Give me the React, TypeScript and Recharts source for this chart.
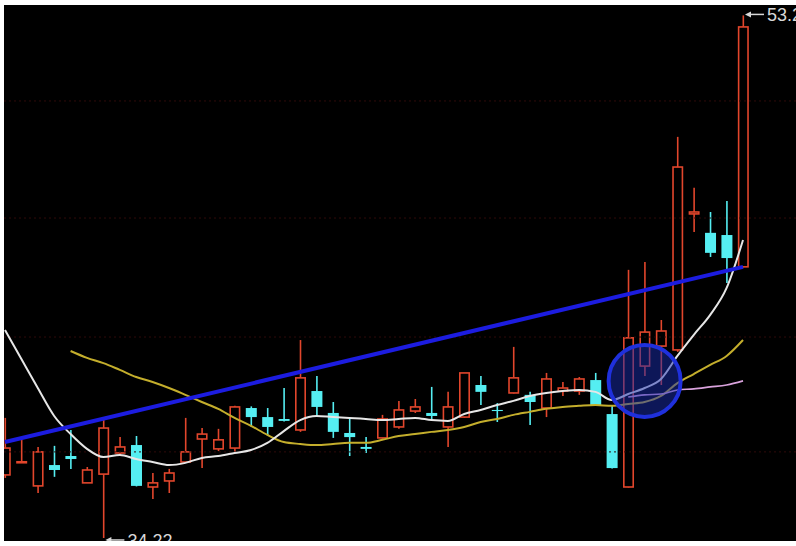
import { Bar, ComposedChart, Line, ReferenceDot, ReferenceLine, XAxis, YAxis } from "recharts";

// K线数据（按图读取的价格）
const days = [
  1, 2, 3, 4, 5, 6, 7, 8, 9, 10, 11, 12, 13, 14, 15, 16, 17, 18, 19, 20, 21, 22, 23,
  24, 25, 26, 27, 28, 29, 30, 31, 32, 33, 34, 35, 36, 37, 38, 39, 40, 41, 42, 43, 44, 45, 46,
];
const opens = [
  36.52, 36.97, 36.12, 36.88, 37.21, 36.23, 36.55, 37.32, 37.61, 36.08, 36.3, 36.99, 37.83,
  37.47, 37.5, 38.96, 38.63, 38.56, 38.16, 39.58, 38.78, 38.05, 37.54, 37.87, 38.27, 38.85,
  38.78, 38.27, 38.63, 39.8, 38.89, 39.51, 39.44, 38.96, 39.58, 39.58, 39.98, 38.74, 36.08,
  40.49, 41.22, 41.08, 46.04, 45.35, 45.27, 44.11,
];
const closes = [
  37.5, 37.0, 37.36, 36.7, 37.1, 36.7, 38.23, 37.54, 36.12, 36.23, 36.59, 37.36, 38.01, 37.8,
  39.0, 38.63, 38.27, 38.49, 40.06, 39.0, 38.09, 37.9, 37.47, 38.56, 38.89, 39.0, 38.67, 39.0,
  40.24, 39.55, 38.85, 40.06, 39.18, 40.02, 39.69, 40.02, 39.07, 36.77, 41.52, 41.73, 41.77,
  47.75, 46.11, 44.62, 44.43, 52.86,
];
const highs = [
  38.6, 37.8, 37.54, 37.58, 38.16, 36.81, 38.63, 37.9, 37.94, 36.59, 36.74, 38.6, 38.23, 38.2,
  39.04, 39.02, 38.96, 39.69, 41.44, 40.13, 39.18, 38.56, 37.9, 38.71, 39.22, 39.29, 39.73,
  39.55, 40.24, 40.13, 39.14, 41.19, 39.55, 40.24, 39.91, 40.09, 40.24, 39.04, 44.0, 44.29,
  42.17, 48.85, 46.99, 46.11, 46.51, 53.28,
];
const lows = [
  36.41, 36.96, 35.86, 36.45, 36.74, 36.23, 34.22, 37.25, 36.1, 35.64, 35.86, 36.97, 36.77,
  37.39, 37.32, 38.27, 37.94, 38.47, 38.09, 38.63, 37.87, 37.21, 37.32, 37.85, 38.2, 38.78,
  38.52, 37.54, 38.6, 39.07, 38.45, 39.49, 38.34, 38.63, 39.4, 39.44, 39.04, 36.75, 36.06,
  40.13, 39.8, 41.01, 45.38, 44.47, 43.52, 44.09,
];
// 均线（白 / 黄 / 紫）
const ma5 = [
  41.81, 40.75, 39.69, 38.67, 38.01, 37.47, 37.17, 37.25, 37.1, 36.99, 36.88, 36.96, 37.14,
  37.21, 37.32, 37.43, 37.69, 38.12, 38.52, 38.67, 38.63, 38.6, 38.56, 38.52, 38.56, 38.6,
  38.52, 38.49, 38.74, 38.89, 39.07, 39.22, 39.4, 39.51, 39.58, 39.62, 39.55, 39.25, 39.47,
  39.69, 40.02, 40.86, 41.63, 42.36, 43.34, 45.09,
];
const ma10 = [
  null, null, null, null, 41.04, 40.79, 40.6, 40.35, 40.09, 39.91, 39.69, 39.44, 39.18, 38.93,
  38.6, 38.31, 37.98, 37.72, 37.65, 37.61, 37.65, 37.69, 37.69, 37.8, 37.94, 38.01, 38.09,
  38.16, 38.27, 38.45, 38.56, 38.71, 38.82, 38.93, 39.0, 39.04, 39.07, 39.04, 39.11, 39.18,
  39.4, 39.87, 40.2, 40.53, 40.86, 41.44,
];
const ma30 = [
  null, null, null, null, null, null, null, null, null, null, null, null, null, null, null,
  null, null, null, null, null, null, null, null, null, null, null, null, null, null, null,
  null, null, null, null, null, null, null, null, 39.36, 39.44, 39.47, 39.62, 39.66, 39.73,
  39.8, 39.95,
];
const trendFrom = 37.72;
const trendTo = 44.11;
const gridPrices = [50.16, 45.89, 41.55, 37.36];
const maxLabel = "53.28";
const minLabel = "34.22";

const RED = "#e2462c";
const CYAN = "#55eef2";

const data = days.map((d, i) => ({
  day: d,
  open: opens[i],
  close: closes[i],
  high: highs[i],
  low: lows[i],
  range: [lows[i], highs[i]],
  ma5: ma5[i],
  ma10: ma10[i],
  ma30: ma30[i],
  trend: i === 0 ? trendFrom : i === days.length - 1 ? trendTo : null,
}));

function Candle(props: any) {
  const { x, y, width, height, payload } = props;
  const { open, close, high, low } = payload;
  const top = Math.min(y, y + height);
  const h = Math.abs(height);
  const span = high - low || 1;
  const py = (v: number) => top + ((high - v) / span) * h;
  const cx = x + width / 2;
  const up = close >= open;
  const bTop = py(Math.max(open, close));
  const bBot = py(Math.min(open, close));
  const bh = Math.max(bBot - bTop, 1);
  if (up) {
    return (
      <g stroke={RED} strokeWidth={1.6}>
        <line x1={cx} x2={cx} y1={top} y2={bTop} />
        <line x1={cx} x2={cx} y1={bTop + bh} y2={top + h} />
        <rect x={x + 0.8} y={bTop} width={width - 1.6} height={bh} fill="#000" />
      </g>
    );
  }
  return (
    <g>
      <line x1={cx} x2={cx} y1={top} y2={top + h} stroke={CYAN} strokeWidth={1.6} />
      <rect x={x} y={bTop} width={width} height={bh} fill={CYAN} />
    </g>
  );
}

function PriceTag(props: any, text: string, dy: number) {
  const { cx, cy } = props;
  const ay = cy + dy;
  return (
    <g>
      <path d={`M${cx + 2},${ay} l6,-3 v6 z`} fill="#d8d8d8" />
      <line x1={cx + 6} x2={cx + 21} y1={ay} y2={ay} stroke="#d8d8d8" strokeWidth={1.5} />
      <text
        x={cx + 24}
        y={ay + 7}
        fill="#d8d8d8"
        fontSize={18}
        fontFamily="Liberation Sans, Arial, sans-serif"
      >
        {text}
      </text>
    </g>
  );
}

export default function App() {
  return (
    <div style={{ position: "relative", width: 796, height: 546, background: "#fff" }}>
      <style>{"body{margin:0;overflow:hidden;background:#fff}"}</style>
      <div style={{ position: "absolute", left: 4, top: 5, width: 792, height: 536, background: "#000" }}>
        <ComposedChart width={792} height={536} data={data} margin={{ top: 0, right: 0, bottom: 0, left: 0 }}>
          <XAxis dataKey="day" type="number" domain={[0.94, 49.23]} allowDataOverflow hide />
          <YAxis type="number" domain={[34.11, 53.66]} allowDataOverflow hide />
          {gridPrices.map((p) => (
            <ReferenceLine key={p} y={p} stroke="#300a0a" strokeDasharray="2 3" />
          ))}
          <Bar dataKey="range" barSize={11} shape={Candle} isAnimationActive={false} />
          <Line type="monotone" dataKey="ma10" stroke="#c4ae2c" strokeWidth={2} dot={false} isAnimationActive={false} />
          <Line type="monotone" dataKey="ma30" stroke="#d9a2dc" strokeWidth={1.6} dot={false} isAnimationActive={false} />
          <Line type="monotone" dataKey="ma5" stroke="#e6e6e6" strokeWidth={2} dot={false} isAnimationActive={false} />
          <Line
            type="linear"
            dataKey="trend"
            stroke="#1c1ce0"
            strokeWidth={4}
            dot={false}
            connectNulls
            isAnimationActive={false}
          />
          <ReferenceDot
            x={40}
            y={39.95}
            r={36}
            fill="rgba(25,45,175,0.5)"
            stroke="#1f30dc"
            strokeWidth={4}
          />
          <ReferenceDot x={46} y={53.28} r={0} shape={(p: any) => PriceTag(p, maxLabel, -1)} />
          <ReferenceDot x={7} y={34.22} r={0} shape={(p: any) => PriceTag(p, minLabel, 2)} />
        </ComposedChart>
      </div>
    </div>
  );
}
